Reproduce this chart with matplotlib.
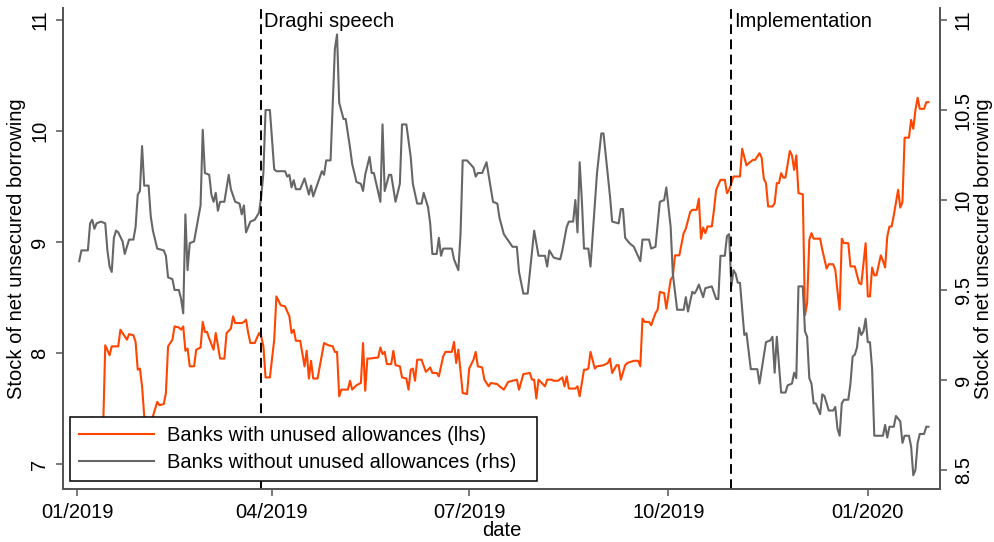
import pandas as pd
import matplotlib
matplotlib.use("Agg")
import matplotlib.pyplot as plt
import matplotlib.dates as mdates
import matplotlib.transforms as mtransforms

plt.rcParams["font.family"] = ["Liberation Sans", "DejaVu Sans"]
plt.rcParams["font.size"] = 14.5

# days since 1 Jan 2019
orange_day = [
    1, 4, 7, 9, 12, 13, 15, 16, 19, 20, 21, 23, 24, 26, 27, 28, 29, 30, 31, 32,
    34, 35, 37, 38, 40, 41, 42, 44, 45, 47, 48, 49, 50, 51, 52, 54, 55, 57, 58, 59,
    60, 61, 63, 64, 65, 66, 68, 69, 71, 72, 73, 76, 77, 78, 79, 80, 82, 84, 85, 86,
    87, 89, 91, 92, 94, 96, 98, 99, 100, 101, 103, 105, 106, 107, 108, 109, 111, 114, 116, 118,
    119, 120, 121, 122, 125, 126, 127, 129, 131, 132, 133, 134, 135, 139, 140, 141, 142, 143, 145, 146,
    147, 149, 150, 152, 153, 154, 155, 156, 157, 159, 161, 163, 164, 166, 167, 169, 170, 173, 174, 175,
    176, 178, 180, 181, 183, 184, 185, 187, 188, 190, 191, 194, 195, 197, 199, 201, 203, 204, 206, 209,
    210, 211, 212, 213, 216, 217, 219, 220, 222, 224, 225, 226, 227, 230, 231, 232, 234, 235, 236, 237,
    239, 240, 243, 245, 246, 247, 249, 250, 251, 253, 254, 257, 259, 260, 261, 262, 264, 265, 267, 268,
    269, 271, 272, 274, 275, 276, 278, 280, 281, 283, 284, 286, 287, 288, 289, 290, 291, 293, 294, 295,
    297, 299, 300, 301, 303, 306, 307, 309, 310, 312, 313, 315, 316, 317, 318, 319, 321, 322, 323, 324,
    325, 326, 327, 329, 330, 331, 332, 333, 335, 336, 337, 338, 339, 340, 343, 344, 346, 347, 349, 350,
    351, 352, 353, 354, 356, 357, 359, 361, 362, 364, 365, 366, 367, 368, 369, 371, 372, 373, 374, 375,
    376, 377, 379, 380, 381, 382, 384, 385, 386, 387, 388, 389, 391, 392, 393,
]
orange_val = [
    7.30, 7.32, 7.42, 7.35, 7.30, 8.07, 7.98, 8.06, 8.06, 8.21, 8.18, 8.12, 8.17, 8.16, 8.10, 7.85, 7.86, 7.70, 7.43, 7.35,
    7.38, 7.43, 7.56, 7.53, 7.54, 7.64, 8.06, 8.12, 8.24, 8.23, 8.21, 8.24, 8.02, 8.04, 7.88, 7.88, 8.03, 8.05, 8.28, 8.19,
    8.19, 8.13, 8.03, 8.18, 8.07, 7.95, 7.95, 8.18, 8.22, 8.33, 8.27, 8.27, 8.28, 8.30, 8.18, 8.09, 8.09, 8.18, 8.15, 8.06,
    7.78, 7.78, 8.12, 8.51, 8.43, 8.42, 8.33, 8.18, 8.21, 8.11, 8.11, 7.88, 8.02, 7.77, 7.93, 7.77, 7.77, 8.09, 8.07, 8.06,
    8.01, 8.01, 7.61, 7.67, 7.67, 7.75, 7.67, 7.71, 7.73, 8.09, 7.66, 7.95, 7.95, 7.96, 8.05, 7.99, 8.01, 7.90, 7.90, 8.02,
    7.89, 7.88, 7.78, 7.77, 7.67, 7.85, 7.86, 7.75, 7.94, 7.94, 7.83, 7.87, 7.82, 7.82, 7.79, 7.97, 8.01, 8.01, 8.10, 7.91,
    8.03, 7.64, 7.63, 7.86, 7.94, 8.01, 7.88, 7.87, 7.76, 7.70, 7.73, 7.72, 7.70, 7.67, 7.74, 7.75, 7.76, 7.67, 7.81, 7.82,
    7.76, 7.76, 7.59, 7.76, 7.70, 7.76, 7.76, 7.75, 7.75, 7.78, 7.70, 7.79, 7.68, 7.68, 7.70, 7.61, 7.85, 7.85, 7.86, 8.01,
    7.86, 7.88, 7.89, 7.91, 7.95, 7.82, 7.89, 7.89, 7.76, 7.89, 7.91, 7.93, 7.93, 7.88, 8.31, 8.28, 8.28, 8.25, 8.36, 8.39,
    8.55, 8.54, 8.40, 8.66, 8.69, 8.88, 8.88, 9.08, 9.12, 9.27, 9.29, 9.29, 9.39, 9.03, 9.13, 9.08, 9.14, 9.14, 9.29, 9.47,
    9.56, 9.56, 9.44, 9.47, 9.59, 9.59, 9.84, 9.69, 9.71, 9.74, 9.74, 9.80, 9.76, 9.57, 9.53, 9.32, 9.32, 9.35, 9.53, 9.53,
    9.62, 9.58, 9.58, 9.82, 9.78, 9.65, 9.78, 9.44, 9.43, 8.34, 8.45, 9.02, 9.08, 9.03, 9.03, 8.93, 8.76, 8.80, 8.80, 8.75,
    8.56, 8.39, 9.03, 8.99, 8.99, 8.78, 8.78, 8.63, 8.62, 8.99, 8.51, 8.51, 8.77, 8.70, 8.70, 8.88, 8.83, 8.77, 9.05, 9.14,
    9.14, 9.24, 9.47, 9.31, 9.36, 9.94, 9.94, 10.10, 10.02, 10.19, 10.30, 10.20, 10.20, 10.26, 10.26,
]

gray_day = [
    1, 2, 5, 6, 7, 8, 9, 11, 13, 14, 15, 16, 17, 18, 19, 21, 22, 24, 26, 27,
    28, 29, 30, 31, 33, 34, 35, 37, 40, 41, 42, 44, 45, 47, 48, 49, 50, 51, 52, 54,
    57, 58, 59, 61, 62, 63, 64, 65, 66, 68, 70, 71, 73, 75, 76, 77, 78, 80, 82, 84,
    85, 86, 87, 89, 91, 92, 96, 97, 98, 99, 100, 101, 103, 105, 107, 108, 109, 111, 113, 114,
    115, 117, 119, 120, 121, 123, 124, 126, 127, 129, 131, 132, 133, 135, 136, 137, 140, 141, 142, 144,
    145, 147, 149, 150, 152, 154, 155, 157, 159, 160, 162, 163, 164, 166, 167, 168, 169, 171, 173, 174,
    176, 177, 178, 180, 183, 184, 185, 187, 189, 192, 194, 195, 197, 201, 203, 204, 206, 208, 211, 213,
    216, 217, 218, 220, 223, 224, 226, 227, 229, 230, 231, 232, 233, 234, 236, 237, 240, 242, 243, 246,
    247, 250, 251, 252, 253, 255, 257, 260, 261, 264, 265, 267, 269, 271, 272, 274, 275, 277, 280, 281,
    282, 284, 285, 286, 287, 289, 290, 293, 295, 296, 297, 299, 300, 301, 302, 303, 304, 305, 306, 308,
    309, 311, 314, 315, 318, 320, 321, 322, 323, 325, 327, 328, 330, 331, 332, 333, 335, 336, 337, 338,
    339, 340, 341, 343, 344, 345, 347, 349, 350, 351, 352, 353, 354, 356, 357, 358, 359, 360, 361, 362,
    363, 364, 365, 366, 367, 368, 371, 372, 373, 374, 375, 377, 378, 380, 381, 382, 384, 385, 386, 387,
    388, 389, 391, 392, 393,
]
gray_val = [
    9.66, 9.72, 9.72, 9.87, 9.89, 9.84, 9.87, 9.88, 9.87, 9.72, 9.63, 9.60, 9.79, 9.83, 9.82, 9.77, 9.70, 9.78, 9.78, 9.85,
    10.03, 10.05, 10.30, 10.08, 10.08, 9.91, 9.83, 9.73, 9.72, 9.69, 9.57, 9.56, 9.50, 9.50, 9.45, 9.37, 9.92, 9.61, 9.76, 9.77,
    9.97, 10.39, 10.15, 10.14, 10.03, 9.99, 10.04, 9.94, 9.99, 9.99, 10.14, 10.06, 9.99, 9.98, 9.92, 9.97, 9.82, 9.88, 9.89, 9.93,
    10.02, 10.15, 10.50, 10.50, 10.17, 10.16, 10.16, 10.13, 10.14, 10.07, 10.11, 10.06, 10.06, 10.12, 10.03, 10.08, 10.02, 10.09, 10.16, 10.14,
    10.22, 10.22, 10.84, 10.92, 10.54, 10.45, 10.45, 10.29, 10.20, 10.10, 10.09, 10.05, 10.14, 10.24, 10.15, 10.15, 9.99, 10.42, 10.05, 10.14,
    10.14, 9.99, 10.09, 10.42, 10.42, 10.24, 10.09, 9.98, 9.98, 10.04, 9.96, 9.87, 9.70, 9.70, 9.79, 9.69, 9.73, 9.73, 9.73, 9.67,
    9.61, 9.81, 10.22, 10.22, 10.18, 10.13, 10.15, 10.15, 10.21, 9.99, 9.98, 9.90, 9.81, 9.74, 9.74, 9.60, 9.48, 9.48, 9.83, 9.69,
    9.69, 9.63, 9.72, 9.68, 9.67, 9.72, 9.85, 9.88, 9.88, 10.00, 9.82, 10.21, 10.00, 9.73, 9.73, 9.63, 10.15, 10.37, 10.37, 10.02,
    9.88, 9.87, 9.95, 9.95, 9.79, 9.76, 9.74, 9.66, 9.78, 9.78, 9.73, 9.74, 9.99, 10.00, 10.07, 9.85, 9.59, 9.39, 9.39, 9.46,
    9.38, 9.49, 9.48, 9.50, 9.53, 9.46, 9.51, 9.52, 9.45, 9.45, 9.69, 9.69, 9.80, 9.81, 9.52, 9.61, 9.59, 9.54, 9.54, 9.25,
    9.26, 9.06, 9.06, 8.98, 9.21, 9.22, 9.24, 9.04, 9.24, 8.93, 8.93, 8.97, 8.98, 9.04, 9.01, 9.52, 9.52, 9.27, 9.24, 9.01,
    8.98, 8.87, 8.87, 8.81, 8.92, 8.91, 8.83, 8.83, 8.85, 8.73, 8.69, 8.87, 8.89, 8.89, 8.98, 9.13, 9.14, 9.18, 9.29, 9.25,
    9.27, 9.34, 9.21, 9.21, 9.06, 8.69, 8.69, 8.69, 8.75, 8.68, 8.74, 8.74, 8.80, 8.77, 8.65, 8.69, 8.69, 8.63, 8.47, 8.50,
    8.65, 8.70, 8.70, 8.74, 8.74,
]

events = ["2019-03-27", "2019-10-30"]
event_labels = ["Draghi speech", "Implementation"]
tick_dates = ["2019-01-01", "2019-04-01", "2019-07-01", "2019-10-01", "2020-01-01"]

start = pd.Timestamp("2019-01-01")
orange_dates = start + pd.to_timedelta(orange_day, unit="D")
gray_dates = start + pd.to_timedelta(gray_day, unit="D")

orange_col = "#ff4500"
gray_col = "#666666"
spine_col = "#555555"

fig = plt.figure(figsize=(9.94, 5.42), dpi=100)
ax = fig.add_axes([63 / 994, 1 - 489 / 542, 877 / 994, 481 / 542])
ax2 = ax.twinx()

l1, = ax.plot(orange_dates, orange_val, color=orange_col, lw=1.5,
              label="Banks with unused allowances (lhs)")
l2, = ax2.plot(gray_dates, gray_val, color=gray_col, lw=1.5,
               label="Banks without unused allowances (rhs)")

ax.set_xlim(pd.Timestamp("2018-12-25 12:00"), pd.Timestamp("2020-02-03 08:00"))
ax.set_ylim(6.775, 11.108)
ax2.set_ylim(8.394, 11.067)

ax.set_yticks([7, 8, 9, 10, 11])
ax.set_yticklabels(["7", "8", "9", "10", "11"], rotation=90, va="center")
ax2.set_yticks([8.5, 9, 9.5, 10, 10.5, 11])
ax2.set_yticklabels(["8.5", "9", "9.5", "10", "10.5", "11"], rotation=90, va="center")

ax.set_xticks(pd.to_datetime(tick_dates))
ax.xaxis.set_major_formatter(mdates.DateFormatter("%m/%Y"))

for a in (ax, ax2):
    a.spines["top"].set_visible(False)
    for s in ("left", "right", "bottom"):
        a.spines[s].set_color(spine_col)
        a.spines[s].set_linewidth(1.3)
    a.tick_params(direction="out", length=5, width=1.1, color=spine_col,
                  labelsize=14.5, pad=5)
ax.tick_params(axis="x", pad=5)

ax.set_ylabel("Stock of net unsecured borrowing", fontsize=14.5, labelpad=3)
ax2.set_ylabel("Stock of net unsecured borrowing", fontsize=14.5, rotation=90,
               labelpad=1)
ax.set_xlabel("date", fontsize=14.5, labelpad=-1)

trans = mtransforms.blended_transform_factory(ax.transData, ax.transAxes)
for d, lab in zip(events, event_labels):
    ax2.axvline(pd.Timestamp(d), color="black", lw=1.4, linestyle=(0, (5, 2.8)))
    ax2.text(pd.Timestamp(d) + pd.Timedelta(days=1.3), 0.972, lab,
             transform=trans, ha="left", va="center", fontsize=14.5)

leg = ax2.legend([l1, l2], [l1.get_label(), l2.get_label()],
                 loc="lower left", bbox_to_anchor=(0.008, 0.017, 0.5325, 0.133),
                 mode="expand", borderaxespad=0, fancybox=False, framealpha=1,
                 edgecolor="black", handlelength=3.7, handletextpad=0.65,
                 borderpad=0.45, labelspacing=0.4, fontsize=14.5)
leg.get_frame().set_linewidth(1.1)

fig.savefig("out.png", dpi=100)
